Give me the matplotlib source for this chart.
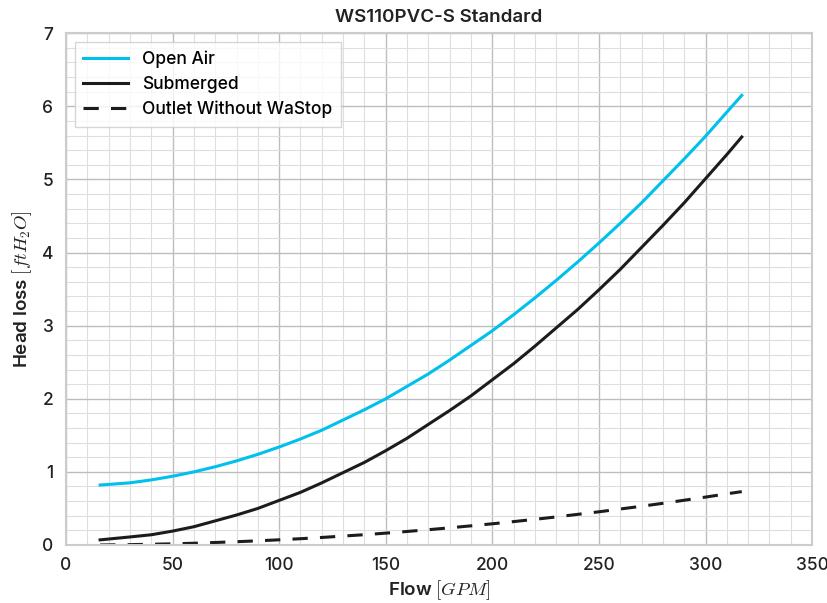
import matplotlib
matplotlib.use('Agg')
import matplotlib.pyplot as plt
from matplotlib.ticker import MultipleLocator

# flow values (GPM) and head loss (ftH2O)
flow = [16, 30, 40, 50, 60, 70, 80, 90, 100, 110, 120, 130, 140, 150, 160, 170,
        180, 190, 200, 210, 220, 230, 240, 250, 260, 270, 280, 290, 300, 310, 317]
openAir = [0.82, 0.85, 0.89, 0.94, 1.00, 1.07, 1.15, 1.24, 1.34, 1.45, 1.57, 1.71,
           1.85, 2.00, 2.17, 2.34, 2.53, 2.73, 2.93, 3.15, 3.38, 3.62, 3.87, 4.13,
           4.40, 4.68, 4.98, 5.28, 5.59, 5.92, 6.15]
submerged = [0.07, 0.11, 0.14, 0.19, 0.25, 0.33, 0.41, 0.50, 0.61, 0.72, 0.85, 0.99,
             1.13, 1.29, 1.46, 1.65, 1.84, 2.04, 2.26, 2.48, 2.72, 2.97, 3.22, 3.49,
             3.77, 4.07, 4.37, 4.68, 5.01, 5.34, 5.58]
noWaStop = [0.00, 0.005, 0.01, 0.016, 0.024, 0.034, 0.045, 0.057, 0.071, 0.086, 0.103,
            0.122, 0.141, 0.162, 0.185, 0.209, 0.235, 0.262, 0.29, 0.32, 0.351, 0.384,
            0.419, 0.454, 0.492, 0.53, 0.57, 0.612, 0.655, 0.70, 0.73]

plt.rcParams['font.family'] = ['Inter', 'DejaVu Sans']
plt.rcParams['mathtext.fontset'] = 'cm'

fig = plt.figure(figsize=(8.27, 6.03), dpi=100)
ax = fig.add_axes((0.0798, 0.0962, 0.9022, 0.8488))

ax.plot(flow, openAir, color='#00c0ec', lw=2.2, label='Open Air')
ax.plot(flow, submerged, color='#1c1c1c', lw=2.2, label='Submerged')
ax.plot(flow, noWaStop, color='#1c1c1c', lw=2.2, dashes=(5, 4),
        label='Outlet Without WaStop')

ax.set_xlim(0, 350)
ax.set_ylim(0, 7)
ax.xaxis.set_major_locator(MultipleLocator(50))
ax.xaxis.set_minor_locator(MultipleLocator(10))
ax.yaxis.set_major_locator(MultipleLocator(1))
ax.yaxis.set_minor_locator(MultipleLocator(0.2))
ax.grid(which='major', color='#bdbdbd', lw=1.0)
ax.grid(which='minor', color='#dedede', lw=0.8)
ax.set_axisbelow(True)
ax.tick_params(which='both', length=0, labelsize=12.5, colors='#222222', pad=9)
for lab in ax.get_xticklabels() + ax.get_yticklabels():
    lab.set_fontweight('medium')
for s in ax.spines.values():
    s.set_color('#cccccc')
    s.set_linewidth(1.5)

ax.set_title('WS110PVC-S Standard', fontsize=13.5, fontweight='semibold', color='#222222', pad=8)
ax.set_xlabel('Flow $[GPM]$', fontsize=13.5, fontweight='semibold', color='#222222', labelpad=3)
ax.set_ylabel('Head loss $[ftH_2O]$', fontsize=13.5, fontweight='semibold', color='#222222', labelpad=6)

leg = ax.legend(loc='upper left', prop={'size': 12.5, 'weight': 'medium'}, fancybox=False,
                edgecolor='#cccccc', handlelength=2.6, borderpad=0.5, labelspacing=0.45)
leg.get_frame().set_linewidth(1.0)

fig.savefig('out.png', dpi=100)
